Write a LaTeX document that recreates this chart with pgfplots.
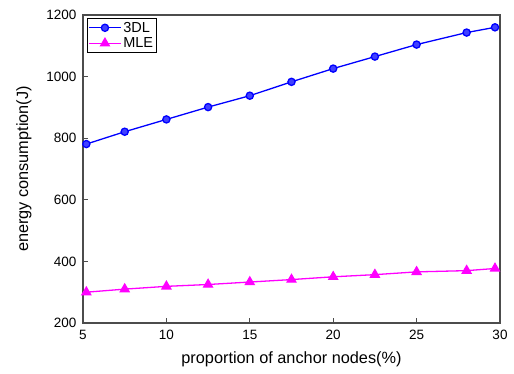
\documentclass[border=0pt]{standalone}
\usepackage{pgfplots}
\pgfplotsset{compat=1.18}
\usepackage{fontspec}
\setmainfont{Liberation Sans}
\definecolor{mblue}{RGB}{0,0,255}
\definecolor{mmag}{RGB}{255,0,255}
\begin{document}
\begin{tikzpicture}
\begin{axis}[name=ax,
  scale only axis, width=417pt, height=308pt,
  xmin=5, xmax=30, ymin=200, ymax=1200,
  xtick={5,10,15,20,25,30}, ytick={200,400,600,800,1000,1200},
  tick align=inside, xtick pos=bottom, ytick pos=left,
  major tick length=5pt,
  axis line style={line width=1.2pt, black!70},
  tick style={line width=1pt, black!70},
  /pgf/number format/assume math mode=true,
  /pgf/number format/1000 sep={},
  tick label style={font=\fontsize{13.5}{16}\selectfont},
  xticklabel style={yshift=-4pt},
  yticklabel style={xshift=-3pt},
  xlabel={proportion of anchor nodes(\%)},
  ylabel={energy consumption(J)},
  label style={font=\fontsize{16.3}{19}\selectfont},
  xlabel style={yshift=-5pt},
  ylabel style={yshift=8pt},
  legend style={at={(0.009,0.99)}, anchor=north west, font=\fontsize{14.5}{17}\selectfont,
    draw=black, line width=0.8pt, inner sep=1.5pt, row sep=0pt},
  legend image code/.code={\draw[mark repeat=2,mark phase=2,#1] plot coordinates {(0cm,0cm) (0.55cm,0cm) (1.1cm,0cm)};},
  legend cell align=left,
]
\addplot[mblue, line width=1.3pt, mark=*, mark size=3.6pt, mark options={fill=mblue!75!white, draw=mblue}]
 coordinates {(5.2,781)(7.5,821)(10,861)(12.5,901)(15,938)(17.5,983)(20,1026)(22.5,1065)(25,1104)(28,1143)(29.7,1160)};
\addlegendentry{3DL}
\addplot[mmag, line width=1.3pt, mark=triangle*, mark size=5pt, mark options={fill=mmag, draw=mmag}]
 coordinates {(5.2,300)(7.5,310)(10,319)(12.5,325)(15,333)(17.5,341)(20,350)(22.5,357)(25,366)(28,370)(29.7,377)};
\addlegendentry{MLE}
\end{axis}
\path[use as bounding box] ([shift={(-83pt,-50pt)}]ax.south west) rectangle ([shift={(14pt,15pt)}]ax.north east);
\end{tikzpicture}
\end{document}
